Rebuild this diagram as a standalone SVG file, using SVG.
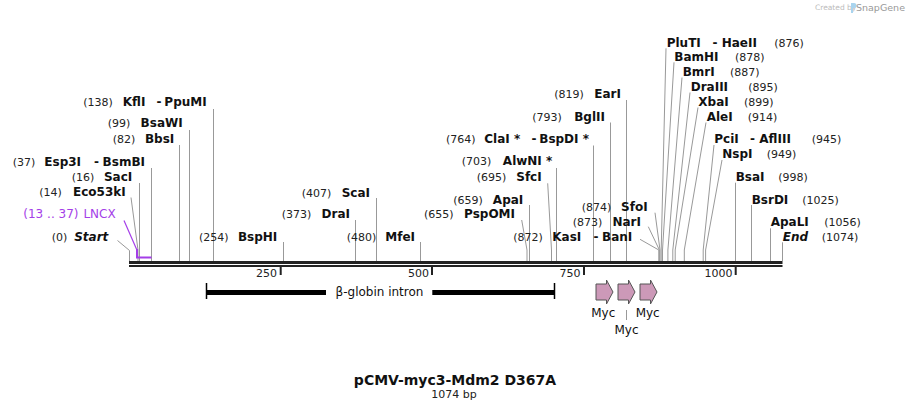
<svg xmlns="http://www.w3.org/2000/svg" width="912" height="411" viewBox="0 0 912 411">
<style>
text{font-family:"DejaVu Sans",Verdana,sans-serif}
.n{font-size:11px;fill:#222}
.e{font-size:12px;font-weight:bold;fill:#111}
.d{font-size:12px;fill:#111}
.i{font-style:italic}
.r{text-anchor:end}
.m{text-anchor:middle}
.p{fill:#a43ee8}
.l{stroke:#999;stroke-width:1;fill:none}
.bb{fill:#222}
.arrow{fill:#cc99b8;stroke:#555;stroke-width:1}
</style>
<rect width="912" height="411" fill="#fff"/>

<g id="logo">
<text x="815" y="10" style="font-size:7.5px;fill:#bbb">Created by</text>
<path d="M851,3 h3 a2.5,2.5 0 0 1 0,5 h-1 v5 h-2 z" fill="#a9d4ee"/>
<text x="856" y="11" style="font-size:9.5px;fill:#999">SnapGene</text>
</g>

<g id="backbone">
<rect class="bb" x="129" y="261" width="653.5" height="3"/>
<rect class="bb" x="129" y="265" width="653.5" height="2"/>
<rect class="bb" x="279.7" y="267" width="2" height="8"/>
<rect class="bb" x="431" y="267" width="2" height="8"/>
<rect class="bb" x="583" y="267" width="2" height="8"/>
<rect class="bb" x="734.7" y="267" width="2" height="8"/>
<text class="n r" x="277" y="276.5">250</text>
<text class="n r" x="429" y="276.5">500</text>
<text class="n r" x="580.5" y="276.5">750</text>
<text class="n r" x="732.5" y="276.5">1000</text>
</g>

<g id="connectors">
<path class="l" d="M213.5,109 V261"/>
<path class="l" d="M189.5,130 V261"/>
<path class="l" d="M179.5,145 V261"/>
<path class="l" d="M151.5,168 V261"/>
<path class="l" d="M139.5,183 V261"/>
<path class="l" d="M131,197.5 L138,250 V261"/>
<path class="l" d="M117.5,240.5 L129.5,250.5 V261"/>
<path class="l" d="M283.5,242 V261"/>
<path class="l" d="M376.5,198 V261"/>
<path class="l" d="M355.5,220 V261"/>
<path class="l" d="M420.5,242 V261"/>
<path class="l" d="M521.7,220 L527,250 V261"/>
<path class="l" d="M529.5,205 V261"/>
<path class="l" d="M547.7,183.3 L551.5,250 V261"/>
<path class="l" d="M556.5,168 V261"/>
<path class="l" d="M593.5,145.5 V261"/>
<path class="l" d="M610.5,122.5 V261"/>
<path class="l" d="M626.5,100 V261"/>
<path class="l" d="M655,212.7 L660,250 V261"/>
<path class="l" d="M648.3,226.7 L659.4,250 V261"/>
<path class="l" d="M640,239.3 L658.8,250 V261"/>
<path class="l" d="M666,48.3 L661.2,250 V261"/>
<path class="l" d="M674,62.3 L662.5,250 V261"/>
<path class="l" d="M682,77.5 L667.9,250 V261"/>
<path class="l" d="M690,92.5 L672.8,250 V261"/>
<path class="l" d="M698,107.5 L675.2,250 V261"/>
<path class="l" d="M706,122.5 L684.3,250 V261"/>
<path class="l" d="M714,145 L703.2,250 V261"/>
<path class="l" d="M722,160 L705.6,250 V261"/>
<path class="l" d="M735.5,182.7 V261"/>
<path class="l" d="M751.5,205 V261"/>
<path class="l" d="M770.5,228.3 V261"/>
<path class="l" d="M782.5,242.3 V261"/>
<path d="M124,220.5 L136.7,249.5" stroke="#a43ee8" stroke-width="1.2" fill="none"/>
<path d="M137,249 V257.5 H151.5" stroke="#a43ee8" stroke-width="2" fill="none"/>
<path d="M626.5,310 V320" stroke="#999" stroke-width="1"/>
</g>

<g id="KflI"><text class="n" x="83.3" y="106.3">(138)</text><text class="e" x="122.7" y="106.3">KflI</text><text class="e" x="156.5" y="106.3">-</text><text class="e r" x="206.7" y="106.3">PpuMI</text></g>
<g id="BsaWI"><text class="n" x="107.7" y="127.3">(99)</text><text class="e r" x="182.7" y="127.3">BsaWI</text></g>
<g id="BbsI"><text class="n" x="112.7" y="143.3">(82)</text><text class="e r" x="174.3" y="143.3">BbsI</text></g>
<g id="Esp3I"><text class="n" x="12.7" y="166">(37)</text><text class="e" x="44.3" y="166">Esp3I</text><text class="e" x="94" y="166">-</text><text class="e r" x="145" y="166">BsmBI</text></g>
<g id="SacI"><text class="n" x="71.7" y="181">(16)</text><text class="e r" x="132.3" y="181">SacI</text></g>
<g id="Eco53kI"><text class="n" x="39.3" y="196">(14)</text><text class="e r" x="125.7" y="196">Eco53kI</text></g>
<g id="LNCX"><text class="d p" x="23.3" y="218.3">(13 .. 37)</text><text class="d p r" x="115.7" y="218.3">LNCX</text></g>
<g id="Start"><text class="n" x="51.7" y="241">(0)</text><text class="e i r" x="108.3" y="241">Start</text></g>
<g id="BspHI"><text class="n" x="199" y="241">(254)</text><text class="e r" x="277.3" y="241">BspHI</text></g>
<g id="ScaI"><text class="n" x="301.7" y="196.6">(407)</text><text class="e r" x="370" y="196.6">ScaI</text></g>
<g id="DraI"><text class="n" x="281.7" y="218.3">(373)</text><text class="e r" x="350" y="218.3">DraI</text></g>
<g id="MfeI"><text class="n" x="346.7" y="241">(480)</text><text class="e r" x="415" y="241">MfeI</text></g>
<g id="PspOMI"><text class="n" x="424" y="217.6">(655)</text><text class="e r" x="515" y="217.6">PspOMI</text></g>
<g id="ApaI"><text class="n" x="453.3" y="203.6">(659)</text><text class="e r" x="523.3" y="203.6">ApaI</text></g>
<g id="SfcI"><text class="n" x="476.7" y="181">(695)</text><text class="e r" x="541.7" y="181">SfcI</text></g>
<g id="AlwNI"><text class="n" x="461.7" y="165.3">(703)</text><text class="e r" x="552.3" y="165.3">AlwNI *</text></g>
<g id="ClaI"><text class="n" x="446" y="143.3">(764)</text><text class="e" x="484.3" y="143.3">ClaI *</text><text class="e" x="531.5" y="143.3">-</text><text class="e r" x="589" y="143.3">BspDI *</text></g>
<g id="BglII"><text class="n" x="532.3" y="121">(793)</text><text class="e r" x="605" y="121">BglII</text></g>
<g id="EarI"><text class="n" x="554.3" y="98.3">(819)</text><text class="e r" x="621" y="98.3">EarI</text></g>
<g id="SfoI"><text class="n" x="581.7" y="211">(874)</text><text class="e r" x="647.7" y="211">SfoI</text></g>
<g id="NarI"><text class="n" x="572.7" y="226">(873)</text><text class="e r" x="641" y="226">NarI</text></g>
<g id="KasI"><text class="n" x="513.3" y="241">(872)</text><text class="e" x="552.3" y="241">KasI</text><text class="e" x="593.5" y="241">-</text><text class="e r" x="632.3" y="241">BanI</text></g>
<g id="PluTI"><text class="e" x="666.7" y="46.6">PluTI</text><text class="e" x="712.5" y="46.6">-</text><text class="e" x="721.7" y="46.6">HaeII</text><text class="n" x="774.3" y="46.6">(876)</text></g>
<g id="BamHI"><text class="e" x="674.3" y="61">BamHI</text><text class="n" x="735" y="61">(878)</text></g>
<g id="BmrI"><text class="e" x="682.7" y="76">BmrI</text><text class="n" x="730" y="76">(887)</text></g>
<g id="DraIII"><text class="e" x="690.7" y="91">DraIII</text><text class="n" x="748.3" y="91">(895)</text></g>
<g id="XbaI"><text class="e" x="698.3" y="106">XbaI</text><text class="n" x="744" y="106">(899)</text></g>
<g id="AleI"><text class="e" x="706.7" y="121">AleI</text><text class="n" x="747.7" y="121">(914)</text></g>
<g id="PciI"><text class="e" x="714.3" y="143.3">PciI</text><text class="e" x="750" y="143.3">-</text><text class="e" x="759.3" y="143.3">AflIII</text><text class="n" x="811.7" y="143.3">(945)</text></g>
<g id="NspI"><text class="e" x="722.3" y="158.3">NspI</text><text class="n" x="766.7" y="158.3">(949)</text></g>
<g id="BsaI"><text class="e" x="735.7" y="181">BsaI</text><text class="n" x="778.3" y="181">(998)</text></g>
<g id="BsrDI"><text class="e" x="751.7" y="203.6">BsrDI</text><text class="n" x="802.3" y="203.6">(1025)</text></g>
<g id="ApaLI"><text class="e" x="770.7" y="226">ApaLI</text><text class="n" x="824.3" y="226">(1056)</text></g>
<g id="End"><text class="e i" x="782.7" y="241">End</text><text class="n" x="821.7" y="241">(1074)</text></g>

<g id="intron">
<rect x="206.5" y="290" width="119.5" height="5" fill="#000"/>
<rect x="432.3" y="290" width="122.2" height="5" fill="#000"/>
<path d="M206.5,283 V299 M554.5,283 V299" stroke="#000" stroke-width="1.5"/>
<text class="d m" x="379.5" y="296.3">β-globin intron</text>
</g>

<g id="myc1"><path class="arrow" d="M596,284 H606.5 V280 L613,292 L606.5,304 V300 H596 Z"/><text class="d m" x="603.3" y="317">Myc</text></g>
<g id="myc2"><path class="arrow" d="M618,284 H628.5 V280 L635,292 L628.5,304 V300 H618 Z"/><text class="d m" x="626.5" y="334">Myc</text></g>
<g id="myc3"><path class="arrow" d="M640,284 H650.5 V280 L657,292 L650.5,304 V300 H640 Z"/><text class="d m" x="647.7" y="317">Myc</text></g>

<g id="title">
<text class="m" x="455" y="385" style="font-size:14px;font-weight:bold;fill:#111">pCMV-myc3-Mdm2 D367A</text>
<text class="n m" x="454" y="398.3">1074 bp</text>
</g>
</svg>
